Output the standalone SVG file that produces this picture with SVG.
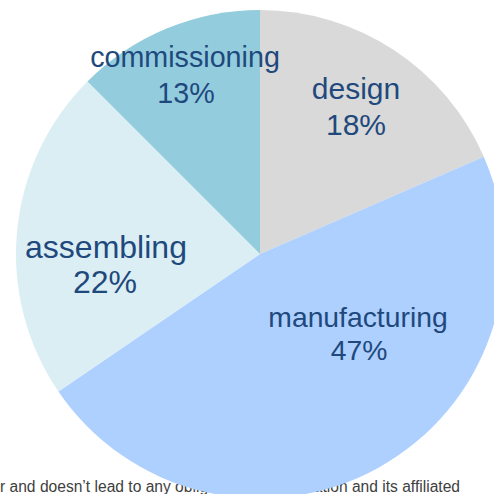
<svg xmlns="http://www.w3.org/2000/svg" width="494" height="494" viewBox="0 0 494 494">
<style>
.lbl{font-family:"Liberation Sans",Arial,sans-serif;fill:#1F497D;text-anchor:middle}
.note{font-family:"Liberation Sans",Arial,sans-serif;fill:#404040;font-size:15.6px}
</style>
<rect width="494" height="494" fill="#ffffff"/>
<g id="footnote">
<text class="note" x="0" y="492">r and doesn’t lead to any obligation</text>
<text class="note" x="460" y="492" text-anchor="end">ation and its affiliated</text>
</g>
<g id="design">
<path d="M260,254 L260,10 A244,244 0 0 1 483.8,156.7 Z" fill="#D9D9D9"/>
<text class="lbl" x="356" y="99" font-size="30">design</text>
<text class="lbl" x="356" y="135" font-size="30">18%</text>
</g>
<g id="manufacturing">
<path d="M260,254 L483.8,156.7 A244,244 0 0 1 58.4,391.5 Z" fill="#AED0FF"/>
<text class="lbl" x="358" y="327" font-size="28.3">manufacturing</text>
<text class="lbl" x="359" y="360" font-size="28.3">47%</text>
</g>
<g id="assembling">
<path d="M260,254 L58.4,391.5 A244,244 0 0 1 87.47,81.47 Z" fill="#DBEEF4"/>
<text class="lbl" x="106" y="258" font-size="32">assembling</text>
<text class="lbl" x="105" y="293" font-size="32">22%</text>
</g>
<g id="commissioning">
<path d="M260,254 L87.47,81.47 A244,244 0 0 1 260,10 Z" fill="#93CDDD"/>
<text class="lbl" x="185" y="67" font-size="28.7">commissioning</text>
<text class="lbl" x="186" y="103" font-size="28.7">13%</text>
</g>
</svg>
